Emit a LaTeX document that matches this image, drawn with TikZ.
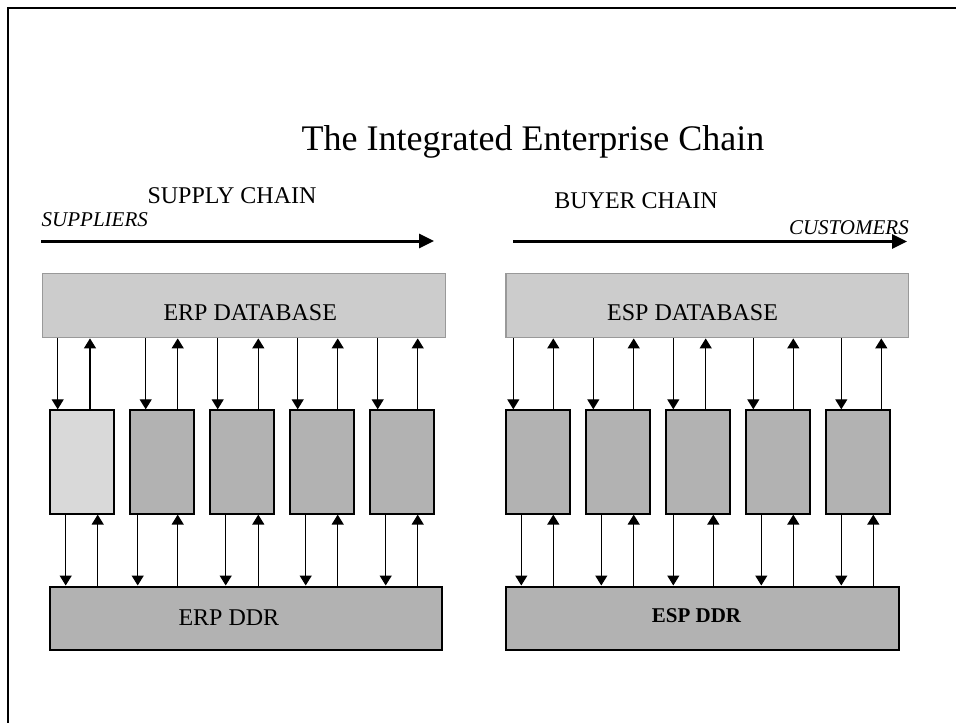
\documentclass[tikz,border=0pt]{standalone}
\usepackage{fontspec}
\setmainfont{Liberation Serif}
\usetikzlibrary{arrows.meta}

\tikzset{
  dbbox/.style={draw=black!40, line width=1.2pt, fill=black!20, inner sep=0pt},
  appbox/.style={draw=black, line width=1.3pt, fill=black!30, inner sep=0pt,
                 minimum width=64pt, minimum height=104pt, anchor=north west},
  lightapp/.style={appbox, fill=black!15},
  ddrbox/.style={draw=black, line width=2pt, fill=black!30, inner sep=0pt},
  conn/.style={line width=1.3pt, -{Triangle[width=12pt,length=10pt]}},
  flow/.style={line width=3pt, -{Triangle[width=14pt,length=15pt]}},
  lbl/.style={inner sep=0pt, anchor=base}
}

\newcommand{\fsz}[1]{\fontsize{#1}{#1}\selectfont}

\begin{document}
\begin{tikzpicture}[x=1pt,y=-1pt]
\useasboundingbox (0,0) rectangle (956,723);

% page frame (top and left edges)
\draw[line width=2pt] (956,8) -- (8,8) -- (8,723);

% headings
\node[lbl] (title) at (533,150) {\fsz{36}The Integrated Enterprise Chain};
\node[lbl] (supply) at (232,203) {\fsz{24}SUPPLY CHAIN};
\node[lbl] (buyer) at (636,208) {\fsz{24}BUYER CHAIN};
\node[lbl, anchor=base west] (suppliers) at (41.5,226) {\fsz{21}\itshape SUPPLIERS};
\node[lbl, anchor=base east] (customers) at (909,234) {\fsz{21}\itshape CUSTOMERS};

% chain direction arrows
\coordinate (sA) at (41,241);
\coordinate (sB) at (434,241);
\coordinate (bA) at (513,241.5);
\coordinate (bB) at (907,241.5);
\draw[flow] (sA) -- (sB);
\draw[flow] (bA) -- (bB);

% databases
\node[dbbox, minimum width=403pt, minimum height=64.5pt, anchor=north west] (erpdb) at (41.7,272.7) {};
\node[dbbox, minimum width=402.7pt, minimum height=64.5pt, anchor=north west] (espdb) at (505.3,272.7) {};
\node[lbl, anchor=base west] (erpdbt) at (163.3,320) {\fsz{24}ERP DATABASE};
\node[lbl, anchor=base west] (espdbt) at (607,320) {\fsz{24}ESP DATABASE};

% DDR repositories
\node[ddrbox, minimum width=391.7pt, minimum height=63.8pt, anchor=north west] (erpddr) at (49.3,585.5) {};
\node[ddrbox, minimum width=392.2pt, minimum height=63.8pt, anchor=north west] (espddr) at (505.3,585.5) {};
\node[lbl, anchor=base west] (erpddrt) at (178.3,625) {\fsz{24}ERP DDR};
\node[lbl, anchor=base west] (espddrt) at (651.7,622.5) {\fsz{21}\bfseries ESP DDR};

% application modules
\node[lightapp] (a1) at (49.3,409.3) {};
\node[appbox] (a2) at (129.3,409.3) {};
\node[appbox] (a3) at (209.3,409.3) {};
\node[appbox] (a4) at (289.3,409.3) {};
\node[appbox] (a5) at (369.3,409.3) {};
\node[appbox] (b1) at (505.3,409.3) {};
\node[appbox] (b2) at (585.3,409.3) {};
\node[appbox] (b3) at (665.3,409.3) {};
\node[appbox] (b4) at (745.3,409.3) {};
\node[appbox] (b5) at (825.3,409.3) {};

% database <-> module links: module / offset of down link / offset of up link
\foreach \m/\d/\u in {a1/8.4/40.7, a2/16.4/48.4, a3/8.4/49, a4/8.4/48.4, a5/8.4/48.4}{
  \draw[conn] ([xshift=\d pt]\m.north west |- erpdb.south) -- ([xshift=\d pt]\m.north west);
  \draw[conn] ([xshift=\u pt]\m.north west) -- ([xshift=\u pt]\m.north west |- erpdb.south);
}
\foreach \m/\d/\u in {b1/8/48, b2/8/48.4, b3/8/40.4, b4/8/48, b5/16/56}{
  \draw[conn] ([xshift=\d pt]\m.north west |- espdb.south) -- ([xshift=\d pt]\m.north west);
  \draw[conn] ([xshift=\u pt]\m.north west) -- ([xshift=\u pt]\m.north west |- espdb.south);
}

% module <-> DDR links
\foreach \m/\d/\u in {a1/16.4/48.4, a2/8.4/48.4, a3/16.4/49, a4/16.4/48.4, a5/16.4/48.4}{
  \draw[conn] ([xshift=\d pt]\m.south west) -- ([xshift=\d pt]\m.south west |- erpddr.north);
  \draw[conn] ([xshift=\u pt]\m.south west |- erpddr.north) -- ([xshift=\u pt]\m.south west);
}
\foreach \m/\d/\u in {b1/16/48, b2/16/48.4, b3/8/48, b4/16/48, b5/16/48}{
  \draw[conn] ([xshift=\d pt]\m.south west) -- ([xshift=\d pt]\m.south west |- espddr.north);
  \draw[conn] ([xshift=\u pt]\m.south west |- espddr.north) -- ([xshift=\u pt]\m.south west);
}
\end{tikzpicture}
\end{document}
